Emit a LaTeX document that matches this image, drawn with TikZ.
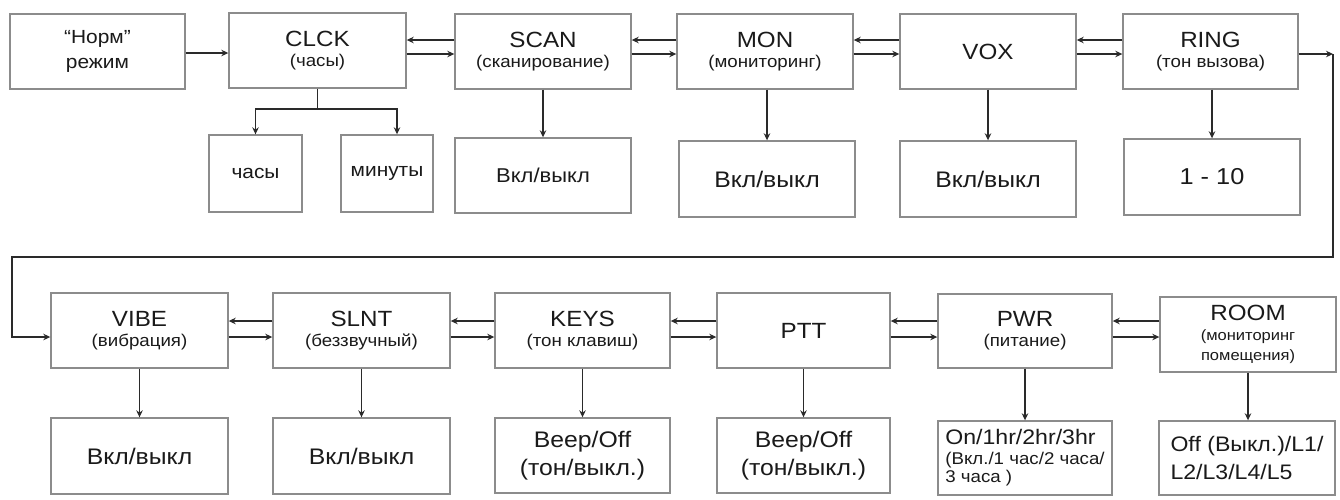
\documentclass[tikz,border=0pt]{standalone}
\usepackage{fontspec}
\setmainfont{Liberation Sans}[FakeStretch=1.1]
\usetikzlibrary{arrows.meta}
\definecolor{boxcol}{HTML}{8C8C8C}
\definecolor{arrcol}{HTML}{2A2A2A}
\definecolor{txtcol}{HTML}{1A1A1A}
\newcommand{\fs}[1]{\fontsize{#1}{#1}\selectfont}
\tikzset{
  box/.style={draw=boxcol, line width=1.4pt, fill=white, minimum width=176pt, minimum height=75pt, inner sep=0pt, align=center, text=txtcol, font=\fs{22}},
  arr/.style={draw=arrcol, line width=1.9pt, -{Stealth[length=7pt,width=6.5pt]}},
  ln/.style={draw=arrcol, line width=1.9pt},
}
\newcommand{\sub}[1]{{\fontsize{17}{20}\selectfont #1}}
\begin{document}
\begin{tikzpicture}[x=1pt,y=-1pt]
\useasboundingbox (0,0) rectangle (1340,499);
% row 1
\node[box, minimum width=175pt, font=\fs{19}] (norm) at (97.5,51.5) {“Норм”\\[6pt]режим};
\node[box, minimum width=177pt] (clck) at (317.5,50.5) {CLCK\\[-2pt]\sub{(часы)}};
\node[box, minimum width=93pt, minimum height=77pt, font=\fs{19}] (chasy) at (255.5,173.5) {часы};
\node[box, minimum width=92pt, minimum height=77pt, font=\fs{19}] (minuty) at (387,173.5) {минуты};
\node[box] (scan) at (543,51.5) {SCAN\\[-2pt]\sub{(сканирование)}};
\node[box, font=\fs{20}] (scanv) at (543,175.5) {Вкл/выкл};
\node[box] (mon) at (765,51.5) {MON\\[-2pt]\sub{(мониторинг)}};
\node[box, minimum height=76pt, font=\fs{22.5}] (monv) at (767,179) {Вкл/выкл};
\node[box] (vox) at (988,51.5) {VOX};
\node[box, minimum height=76pt, font=\fs{22.5}] (voxv) at (988,179) {Вкл/выкл};
\node[box, minimum width=175pt] (ring) at (1210.5,51.5) {RING\\[-2pt]\sub{(тон вызова)}};
\node[box, minimum height=76pt, font=\fs{23}] (ringv) at (1212,177) {1 - 10};
% row 2
\node[box, minimum width=177pt] (vibe) at (139.5,330.5) {VIBE\\[-2pt]\sub{(вибрация)}};
\node[box, minimum width=177pt, minimum height=76pt, font=\fs{22.5}] (vibev) at (139.5,456) {Вкл/выкл};
\node[box, minimum width=177pt] (slnt) at (361.5,330.5) {SLNT\\[-2pt]\sub{(беззвучный)}};
\node[box, minimum width=177pt, minimum height=76pt, font=\fs{22.5}] (slntv) at (361.5,456) {Вкл/выкл};
\node[box, minimum width=175pt] (keys) at (582.5,330.5) {KEYS\\[-2pt]\sub{(тон клавиш)}};
\node[box, minimum width=175pt, font=\fs{22.5}] (keysv) at (582.5,455.5) {Beep/Off\\[6pt](тон/выкл.)};
\node[box, minimum width=173pt] (ptt) at (803.5,330.5) {PTT};
\node[box, minimum width=173pt, font=\fs{22.5}] (pttv) at (803.5,455.5) {Beep/Off\\[6pt](тон/выкл.)};
\node[box, minimum width=174pt, minimum height=74pt] (pwr) at (1025,331) {PWR\\[-2pt]\sub{(питание)}};
\node[box, minimum width=174pt, minimum height=74pt, align=left, font=\fs{21}] (pwrv) at (1025,458) {On/1hr/2hr/3hr\\[-1pt]{\fontsize{17}{15}\selectfont (Вкл./1 час/2 часа/}\\[-3pt]{\fontsize{17}{15}\selectfont 3 часа )}};
\node[box] (room) at (1248,334.5) {ROOM\\[-2pt]{\fontsize{15}{19}\selectfont (мониторинг}\\[-2pt]{\fontsize{15}{19}\selectfont помещения)}};
\node[box, minimum height=74pt, align=left, font=\fs{21}] (roomv) at (1247,458) {Off (Выкл.)/L1/\\[7pt]L2/L3/L4/L5};
% helper coordinates
\coordinate (r1u) at (0,40);
\coordinate (r1l) at (0,54);
\coordinate (r2u) at (0,321);
\coordinate (r2l) at (0,337);
\coordinate (br) at (317.5,109);
\coordinate (rc) at (1333,54);
\coordinate (c1) at (1333,257);
\coordinate (c2) at (12,257);
% row 1 connectors
\draw[arr] (norm.east |- 0,53) -- (clck.west |- 0,53);
\draw[arr] (scan.west |- r1u) -- (clck.east |- r1u);
\draw[arr] (clck.east |- r1l) -- (scan.west |- r1l);
\draw[arr] (mon.west |- r1u) -- (scan.east |- r1u);
\draw[arr] (scan.east |- r1l) -- (mon.west |- r1l);
\draw[arr] (vox.west |- r1u) -- (mon.east |- r1u);
\draw[arr] (mon.east |- r1l) -- (vox.west |- r1l);
\draw[arr] (ring.west |- r1u) -- (vox.east |- r1u);
\draw[arr] (vox.east |- r1l) -- (ring.west |- r1l);
\draw[arr] (ring.east |- r1l) -- (rc);
\draw[arr] (rc) -- (c1) -- (c2) |- (vibe.west |- r2l);
\draw[ln] (clck.south) -- (br);
\draw[arr] (br) -| (chasy.north);
\draw[arr] (br) -| ([xshift=10pt]minuty.north);
\draw[arr] (scan.south) -- (scanv.north);
\draw[arr] (monv.north |- mon.south) -- (monv.north);
\draw[arr] (vox.south) -- (voxv.north);
\draw[arr] (ringv.north |- ring.south) -- (ringv.north);
% row 2 connectors
\draw[arr] (slnt.west |- r2u) -- (vibe.east |- r2u);
\draw[arr] (vibe.east |- r2l) -- (slnt.west |- r2l);
\draw[arr] (keys.west |- r2u) -- (slnt.east |- r2u);
\draw[arr] (slnt.east |- r2l) -- (keys.west |- r2l);
\draw[arr] (ptt.west |- r2u) -- (keys.east |- r2u);
\draw[arr] (keys.east |- r2l) -- (ptt.west |- r2l);
\draw[arr] (pwr.west |- r2u) -- (ptt.east |- r2u);
\draw[arr] (ptt.east |- r2l) -- (pwr.west |- r2l);
\draw[arr] (room.west |- r2u) -- (pwr.east |- r2u);
\draw[arr] (pwr.east |- r2l) -- (room.west |- r2l);
\draw[arr] (vibe.south) -- (vibev.north);
\draw[arr] (slnt.south) -- (slntv.north);
\draw[arr] (keys.south) -- (keysv.north);
\draw[arr] (ptt.south) -- (pttv.north);
\draw[arr] (pwr.south) -- (pwrv.north);
\draw[arr] (room.south) -- (roomv.north -| room.south);
\end{tikzpicture}
\end{document}
